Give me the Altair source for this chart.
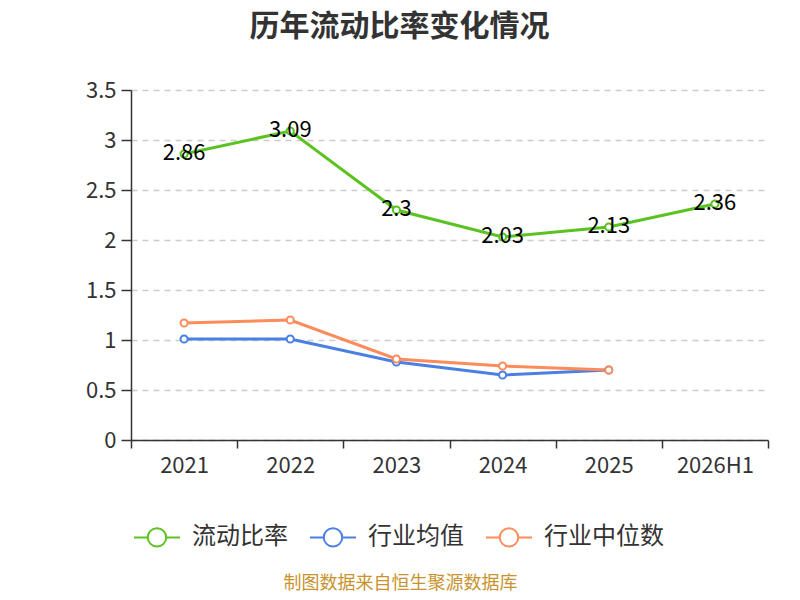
import altair as alt
import pandas as pd

years = ["2021", "2022", "2023", "2024", "2025", "2026H1"]
current_ratio = [2.86, 3.09, 2.30, 2.03, 2.13, 2.36]
industry_avg = [1.01, 1.01, 0.78, 0.65, 0.70]
industry_median = [1.17, 1.20, 0.81, 0.74, 0.70]
series_names = ["流动比率", "行业均值", "行业中位数"]
colors = ["#5ac322", "#4a80e2", "#fe8c5b"]
y_ticks = [0, 0.5, 1, 1.5, 2, 2.5, 3, 3.5]

rows = []
for name, vals in zip(series_names, [current_ratio, industry_avg, industry_median]):
    for yr, v in zip(years, vals):
        rows.append({"year": yr, "value": v, "series": name})
df = pd.DataFrame(rows)

FONT = "Noto Sans CJK SC"

x_enc = alt.X(
    "year:N",
    sort=years,
    bandPosition=0.5,
    scale=alt.Scale(type="band", paddingInner=0, paddingOuter=0),
    axis=alt.Axis(
        title="制图数据来自恒生聚源数据库",
        titleColor="#c8932e",
        titleFont=FONT,
        titleFontSize=18,
        titleFontWeight="normal",
        titleX=269,
        titleY=143,
        titleBaseline="middle",
        titleAlign="center",
        labelAngle=0,
        labelFont=FONT,
        labelFontSize=22,
        labelColor="#333333",
        labelPadding=7,
        tickBand="extent",
        tickSize=8,
        tickColor="#333333",
        tickWidth=1.5,
        domainColor="#333333",
        domainWidth=1.5,
        grid=False,
    ),
)
y_enc = alt.Y(
    "value:Q",
    scale=alt.Scale(domain=[0, 3.5], nice=False),
    axis=alt.Axis(
        title=None,
        values=y_ticks,
        format="~g",
        labelFont=FONT,
        labelFontSize=22,
        labelColor="#333333",
        labelPadding=5,
        tickSize=10,
        tickColor="#333333",
        tickWidth=1.5,
        domainColor="#333333",
        domainWidth=1.5,
        grid=True,
        gridColor="#cccccc",
        gridDash=[6, 5],
        gridWidth=1.5,
    ),
)
color_enc = alt.Color(
    "series:N",
    scale=alt.Scale(domain=series_names, range=colors),
    legend=alt.Legend(
        title=None,
        orient="none",
        direction="horizontal",
        legendX=2,
        legendY=423,
        padding=0,
        symbolType="M-1,0L-0.4,0M0.4,0L1,0M0.4,0A0.4,0.4,0,1,1,-0.4,0A0.4,0.4,0,1,1,0.4,0",
        symbolSize=2116,
        symbolStrokeWidth=2,
        symbolFillColor="white",
        labelFont=FONT,
        labelFontSize=24,
        labelColor="#333333",
        labelOffset=11,
        columnPadding=18,
    ),
)

base = alt.Chart(df)

lines = base.mark_line(strokeWidth=3).encode(x=x_enc, y=y_enc, color=color_enc,
                                              order=alt.Order("series:N"))
points = base.mark_point(filled=False, fill="white", fillOpacity=1, opacity=1,
                         size=50, strokeWidth=2).encode(x=x_enc, y=y_enc, color=color_enc)
labels = base.transform_filter(alt.datum.series == "流动比率").mark_text(
    font=FONT, fontSize=22, color="#000000", baseline="middle", align="center", dy=-1
).encode(x=x_enc, y=y_enc, text=alt.Text("value:Q", format="~g"))

chart = alt.layer(lines, points, labels).properties(
    width=637,
    height=350,
    autosize=alt.AutoSizeParams(type="none"),
    padding={"left": 123, "top": 82, "right": 24, "bottom": 152},
    title=alt.TitleParams(
        text="历年流动比率变化情况",
        font=FONT,
        fontSize=30,
        fontWeight="bold",
        color="#333333",
        anchor="middle",
        frame="group",
        dx=-50,
        offset=37,
    ),
).configure_view(stroke=None)

chart.save("out.html", embed_options={"renderer": "svg", "actions": False})
